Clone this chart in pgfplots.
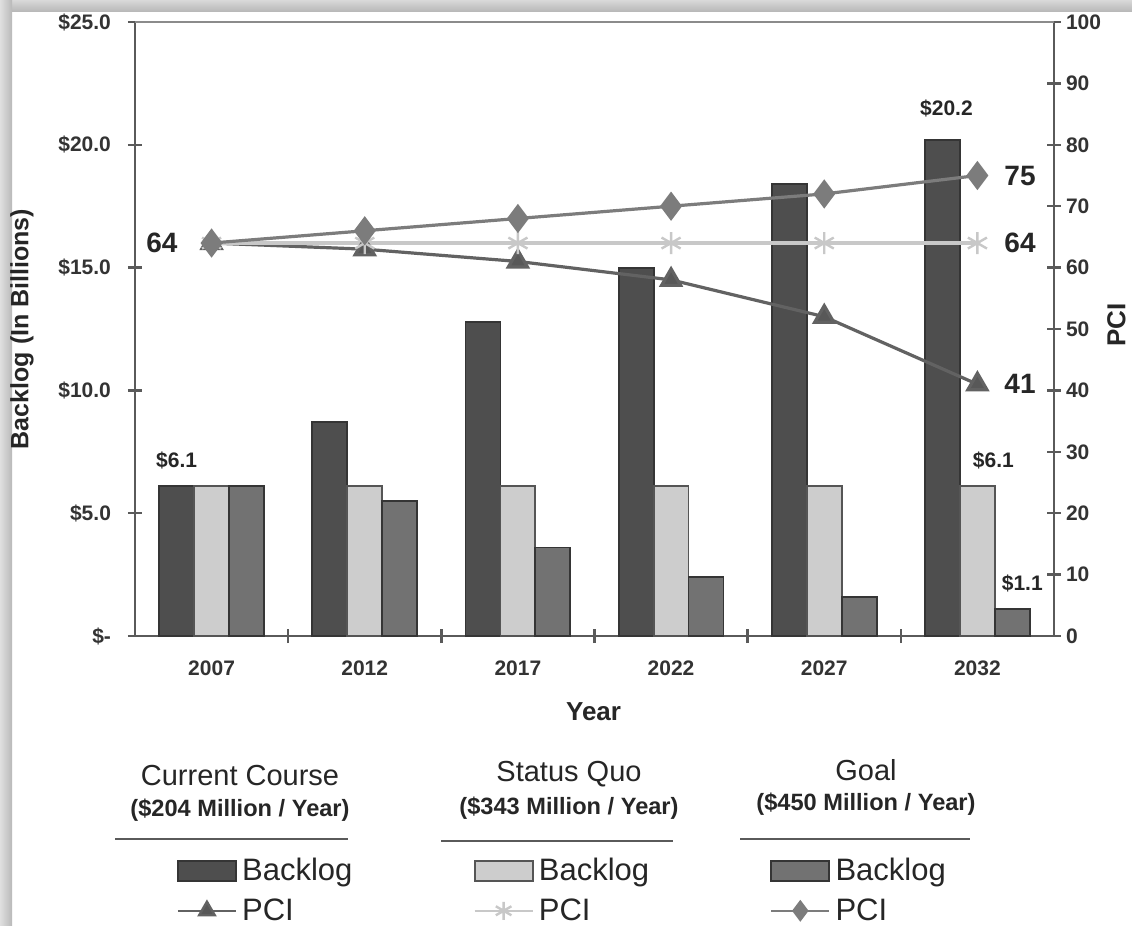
\documentclass[border=0pt]{standalone}
\usepackage{fontspec}
\setmainfont{Liberation Sans}
\usepackage{pgfplots}
\pgfplotsset{compat=1.18}

\definecolor{barDark}{HTML}{4E4E4E}
\definecolor{barLight}{HTML}{CDCDCD}
\definecolor{barMid}{HTML}{727272}
\definecolor{edgeDark}{HTML}{353535}
\definecolor{edgeLight}{HTML}{555555}
\definecolor{lineTri}{HTML}{626262}
\definecolor{lineStar}{HTML}{C8C8C8}
\definecolor{lineDia}{HTML}{7C7C7C}
\definecolor{axisGray}{HTML}{5A5A5A}

\pgfplotsset{
  backlog legend/.style={
    /pgfplots/legend image code/.code={%
      \draw[##1] (0pt,-5pt) rectangle (29pt,5pt);
    },
  },
  pci legend/.style={
    /pgfplots/legend image code/.code={%
      \draw[mark repeat=2,mark phase=2,##1,line width=1.2pt,mark size=4.5pt]
        plot coordinates {(0pt,0pt) (14.5pt,0pt) (29pt,0pt)};
    },
  },
}

% Backlog (billions of dollars) by scenario
\pgfplotstableread{
x  current status goal
0  6.1     6.1    6.1
1  8.7     6.1    5.5
2  12.8    6.1    3.6
3  15.0    6.1    2.4
4  18.4    6.1    1.6
5  20.2    6.1    1.1
}\backlogdata

% Pavement condition index by scenario
\pgfplotstableread{
x  current status goal
0  64      64     64
1  63      64     66
2  61      64     68
3  58      64     70
4  52      64     72
5  41      64     75
}\pcidata

\begin{document}
\begin{tikzpicture}
\useasboundingbox (0,0) rectangle (566pt,-463pt);
\fill[white] (0,0) rectangle (566pt,-463pt);

% page shadow along the top and left edges
\begin{scope}[x=0.5pt,y=-0.5pt]
  \shade[top color=gray!30, bottom color=gray!55] (0,0) rectangle (1132,11);
  \shade[left color=gray!25, right color=gray!55] (0,0) rectangle (12,926);
\end{scope}

% ---------- left axis: backlog bars ----------
\begin{axis}[
  at={(67.5pt,-318pt)}, anchor=south west,
  scale only axis, width=459.5pt, height=307pt,
  xmin=-0.5, xmax=5.5, ymin=0, ymax=25,
  axis x line*=bottom, axis y line*=left,
  axis line style={draw=axisGray, line width=1.3pt},
  tick style={draw=axisGray, line width=1.2pt},
  tick align=center, major tick length=7pt,
  xtick={0.5,1.5,2.5,3.5,4.5}, xticklabels={},
  extra x ticks={0,1,2,3,4,5},
  extra x tick labels={2007,2012,2017,2022,2027,2032},
  extra x tick style={major tick length=0pt},
  xticklabel style={font=\bfseries\fontsize{10.5}{12}\selectfont, text=black!80, yshift=-9pt},
  ytick={0,5,10,15,20,25},
  yticklabels={\$-,\$5.0,\$10.0,\$15.0,\$20.0,\$25.0},
  yticklabel style={font=\bfseries\fontsize{10.5}{12}\selectfont, text=black!80, xshift=-5pt},
  xlabel={Year},
  xlabel style={font=\bfseries\fontsize{13}{15}\selectfont, text=black!85, at={(axis description cs:0.499,-0.123)}, anchor=center},
  ylabel={Backlog (In Billions)},
  ylabel style={font=\bfseries\fontsize{12.5}{15}\selectfont, text=black!85, at={(axis description cs:-0.123,0.5)}, anchor=center, rotate=0},
  clip=false,
  every axis plot/.append style={line width=0.9pt},
]
\addplot[ybar, bar width=0.228, bar shift=-0.228, fill=barDark, draw=edgeDark]
  table[x=x, y=current] {\backlogdata};
\addplot[ybar, bar width=0.228, bar shift=0, fill=barLight, draw=edgeLight]
  table[x=x, y=status] {\backlogdata};
\addplot[ybar, bar width=0.228, bar shift=0.228, fill=barMid, draw=edgeDark]
  table[x=x, y=goal] {\backlogdata};

\begin{scope}[every node/.style={font=\bfseries\fontsize{10.5}{12}\selectfont, text=black!85}]
  \node[anchor=south] at (axis cs:-0.228,6.1) [yshift=5pt] {\$6.1};
  \node[anchor=south] at (axis cs:4.772,20.2) [yshift=8pt, xshift=2pt] {\$20.2};
  \node[anchor=south] at (axis cs:5,6.1) [yshift=5pt, xshift=8pt] {\$6.1};
  \node[anchor=south] at (axis cs:5.228,1.1) [yshift=5pt, xshift=5pt] {\$1.1};
\end{scope}
\end{axis}

% ---------- right axis: PCI lines ----------
\begin{axis}[
  at={(67.5pt,-318pt)}, anchor=south west,
  scale only axis, width=459.5pt, height=307pt,
  xmin=-0.5, xmax=5.5, ymin=0, ymax=100,
  axis x line=none, axis y line*=right,
  axis line style={draw=axisGray, line width=1.3pt},
  tick style={draw=axisGray, line width=1.2pt},
  tick align=center, major tick length=7pt,
  ytick={0,10,...,100},
  /pgf/number format/assume math mode=true,
  yticklabel style={font=\bfseries\fontsize{10.5}{12}\selectfont, text=black!80, xshift=-1pt},
  ylabel={PCI},
  ylabel style={font=\bfseries\fontsize{13}{15}\selectfont, text=black!85, inner sep=0pt, at={(axis description cs:1.068,0.506)}, anchor=center},
  clip=false,
  legend columns=3,
  legend cell align=left,
  legend style={
    at={(axis description cs:0.045,-0.356)}, anchor=north west,
    draw=none, fill=none, inner sep=0pt,
    font=\fontsize{15.5}{17}\selectfont, text=black!85,
    nodes={inner sep=1.5pt},
    row sep=4.5pt,
    /tikz/every odd column/.append style={column sep=1pt},
    /tikz/every even column/.append style={column sep=59pt},
  },
]
\addlegendimage{backlog legend, fill=barDark, draw=edgeDark, line width=0.9pt}
\addlegendimage{backlog legend, fill=barLight, draw=edgeLight, line width=0.9pt}
\addlegendimage{backlog legend, fill=barMid, draw=edgeDark, line width=0.9pt}

\addplot[pci legend, color=lineTri, line width=1.6pt, mark=triangle*, mark size=5.5pt,
  mark options={solid, fill=lineTri!90!black}]
  table[x=x, y=current] {\pcidata};
\addplot[pci legend, color=lineStar, line width=1.6pt, mark=asterisk, mark size=5.5pt,
  mark options={solid, line width=1.2pt}]
  table[x=x, y=status] {\pcidata};
\addplot[pci legend, color=lineDia, line width=1.6pt, mark=diamond*, mark size=6pt,
  mark options={solid, fill=lineDia}]
  table[x=x, y=goal] {\pcidata};
\legend{Backlog,Backlog,Backlog,PCI,PCI,PCI}

\begin{scope}[every node/.style={font=\bfseries\fontsize{14}{16}\selectfont, text=black!85}]
  \node[anchor=east] at (axis cs:0,64) [xshift=-13.5pt] {64};
  \node[anchor=west] at (axis cs:5,75) [xshift=10pt] {75};
  \node[anchor=west] at (axis cs:5,64) [xshift=10pt] {64};
  \node[anchor=west] at (axis cs:5,41) [xshift=10pt] {41};
\end{scope}
\end{axis}

% top frame line of the plot area
\draw[axisGray!70, line width=0.9pt] (67.5pt,-11pt) -- (527pt,-11pt);

% scenario headings above the legend
\begin{scope}[x=0.5pt,y=-0.5pt, every node/.style={text=black!85}]
  \node[font=\fontsize{14.5}{16}\selectfont] at (240,776) {Current Course};
  \node[font=\bfseries\fontsize{11.8}{14}\selectfont] at (240,810) {(\$204 Million / Year)};
  \draw[axisGray, line width=1.1pt] (115,839) -- (348,839);

  \node[font=\fontsize{14.5}{16}\selectfont] at (569,774) {Status Quo};
  \node[font=\bfseries\fontsize{11.8}{14}\selectfont] at (569,808) {(\$343 Million / Year)};
  \draw[axisGray, line width=1.1pt] (441,841) -- (673,841);

  \node[font=\fontsize{14.5}{16}\selectfont] at (866,770) {Goal};
  \node[font=\bfseries\fontsize{11.8}{14}\selectfont] at (866,804) {(\$450 Million / Year)};
  \draw[axisGray, line width=1.1pt] (740,839) -- (970,839);
\end{scope}
\end{tikzpicture}
\end{document}
